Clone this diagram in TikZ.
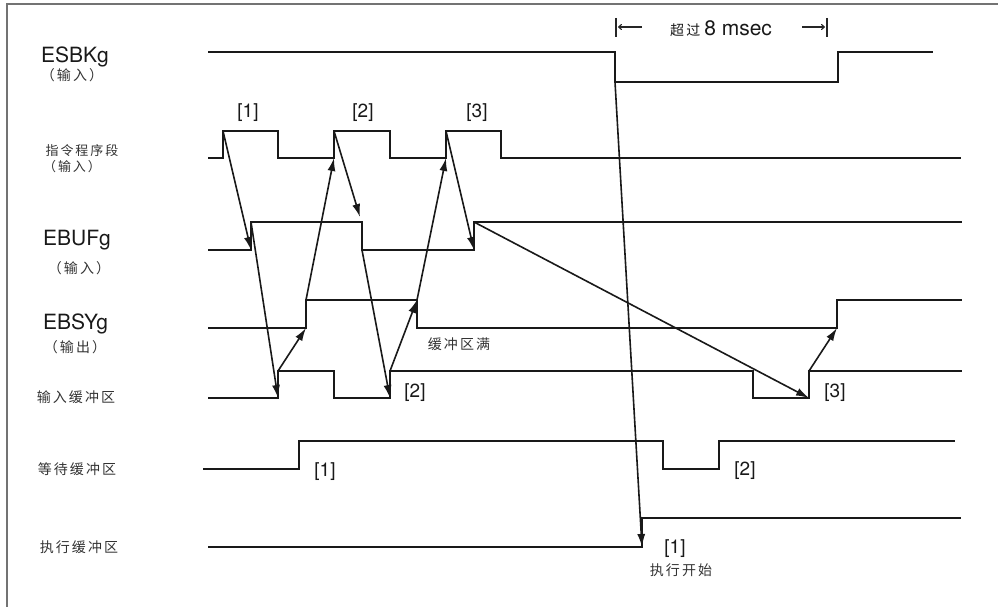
\documentclass[tikz,border=0pt]{standalone}
\usepackage{fontspec}
\setmainfont{TeX Gyre Heros}
\newfontfamily\cjk{Noto Sans CJK SC}[LetterSpace=15]
\usetikzlibrary{arrows.meta}
\begin{document}
\begin{tikzpicture}[x=1pt,y=-1pt,
  sig/.style={line width=1.8pt,draw=black!90,line join=miter},
  arr/.style={line width=1.6pt,draw=black!90,-{Latex[length=13pt,width=8pt]}},
  thinarr/.style={line width=1.1pt,draw=black!85,-{To[length=4pt,width=6pt]}},
  bar/.style={line width=1.4pt,draw=black!85},
  big/.style={font=\fontsize{21}{21}\selectfont,text=black!90,inner sep=0pt,anchor=base west},
  cjklbl/.style={font=\cjk\fontsize{14}{14}\selectfont,text=black!80,inner sep=0pt},
  cjksm/.style={font=\cjk\fontsize{13}{13}\selectfont,text=black!80,inner sep=0pt},
  num/.style={font=\fontsize{19}{19}\selectfont,text=black!90,inner sep=0pt},
  frame/.style={draw=black!55,line width=2.5pt}]
\useasboundingbox (0,0) rectangle (998,607);
% frame (top and left edges)
\coordinate (fTL) at (7,4);
\coordinate (fTR) at (998,4);
\coordinate (fBL) at (7,607);
\draw[frame] (fTR) -- (fTL) -- (fBL);

% ---- left labels ----
\node[big] (lESBK) at (41,63) {ESBKg};
\node[cjklbl] (lESBKin) at (72,75) {（输入）};
\node[cjksm] (lCMD) at (82,151) {指令程序段};
\node[cjksm] (lCMDin) at (72,167) {（输入）};
\node[big] (lEBUF) at (43,245) {EBUFg};
\node[cjklbl] (lEBUFin) at (79,268) {（输入）};
\node[big] (lEBSY) at (43,329) {EBSYg};
\node[cjklbl] (lEBSYout) at (75,347) {（输出）};
\node[cjklbl] (lIB) at (76,397) {输入缓冲区};
\node[cjklbl] (lWB) at (77,469) {等待缓冲区};
\node[cjklbl] (lXB) at (79,547) {执行缓冲区};

% ---- signals ----
% ESBKg
\draw[sig] (208,52) -- (615,52) -- (615,82) -- (838,82) -- (838,52) -- (933,52);
% command block
\draw[sig] (208,158) -- (223,158) -- (223,131) -- (278,131) -- (278,158) -- (334,158) -- (334,131)
  -- (390,131) -- (390,158) -- (446,158) -- (446,131) -- (501,131) -- (501,158) -- (961,158);
% EBUFg
\draw[sig] (208,250) -- (251,250) -- (251,222) -- (362,222) -- (362,250) -- (474,250) -- (474,222) -- (962,222);
% EBSYg
\draw[sig] (208,328) -- (306,328) -- (306,300) -- (417,300) -- (417,328) -- (837,328) -- (837,300) -- (962,300);
% input buffer
\draw[sig] (208,398) -- (278,398) -- (278,371) -- (334,371) -- (334,398) -- (390,398) -- (390,371)
  -- (753,371) -- (753,398) -- (809,398) -- (809,371) -- (962,371);
% wait buffer
\draw[sig] (203,469) -- (299,469) -- (299,441) -- (663,441) -- (663,469) -- (719,469) -- (719,441) -- (955,441);
% execution buffer
\draw[sig] (208,547) -- (642,547) -- (642,518) -- (961,518);

% ---- edge points ----
\coordinate (c1t) at (223,131);
\coordinate (c2b) at (334,158);
\coordinate (c2t) at (334,131);
\coordinate (c3b) at (446,158);
\coordinate (c3t) at (446,131);
\coordinate (u1b) at (251,250);
\coordinate (u1t) at (251,222);
\coordinate (u1f) at (360,217);
\coordinate (u2f) at (362,250);
\coordinate (u3b) at (474,250);
\coordinate (u3t) at (474,222);
\coordinate (s1b) at (306,328);
\coordinate (s1t) at (306,300);
\coordinate (s2t) at (417,300);
\coordinate (s3b) at (837,328);
\coordinate (i1b) at (278,398);
\coordinate (i1t) at (278,371);
\coordinate (i2b) at (390,398);
\coordinate (i2t) at (390,371);
\coordinate (i3b) at (809,398);
\coordinate (i3t) at (809,371);
\coordinate (eFall) at (615,82);
\coordinate (xRise) at (642,547);

% ---- causal arrows ----
\draw[arr] (c1t) -- (u1b);
\draw[arr] (u1t) -- (i1b);
\draw[arr] (i1t) -- (s1b);
\draw[arr] (s1t) -- (c2b);
\draw[arr] (c2t) -- (u1f);
\draw[arr] (u2f) -- (i2b);
\draw[arr] (i2t) -- (s2t);
\draw[arr] (s2t) -- (c3b);
\draw[arr] (c3t) -- (u3b);
\draw[arr] (u3t) -- (i3b);
\draw[arr] (i3t) -- (s3b);
\draw[arr] (eFall) -- (xRise);

% ---- labels ----
\node[num] (n1) at (248,113) {[1]};
\node[num] (n2) at (363,113) {[2]};
\node[num] (n3) at (477,113) {[3]};
\node[num] (ib2) at (415,393) {[2]};
\node[num] (ib3) at (835,393) {[3]};
\node[num] (wb1) at (325,472) {[1]};
\node[num] (wb2) at (745,471) {[2]};
\node[num] (xb1) at (675,549) {[1]};
\node[cjklbl] (xstart) at (681,570) {执行开始};
\node[cjklbl] (full) at (459,344) {缓冲区满};

% time span
\node[inner sep=0pt,anchor=base west,text=black!90] (span) at (670,36)
  {{\cjk\fontsize{14}{14}\selectfont 超过}\hspace{4pt}{\fontsize{21}{21}\selectfont 8 msec}};
\coordinate (barLt) at (616,18);
\coordinate (barLb) at (616,37);
\coordinate (arLs) at (642,27);
\coordinate (arLe) at (618,27);
\coordinate (barRt) at (827,18);
\coordinate (barRb) at (827,37);
\coordinate (arRs) at (802,27);
\coordinate (arRe) at (825,27);
\draw[bar] (barLt) -- (barLb);
\draw[bar] (barRt) -- (barRb);
\draw[thinarr] (arLs) -- (arLe);
\draw[thinarr] (arRs) -- (arRe);
\end{tikzpicture}
\end{document}
